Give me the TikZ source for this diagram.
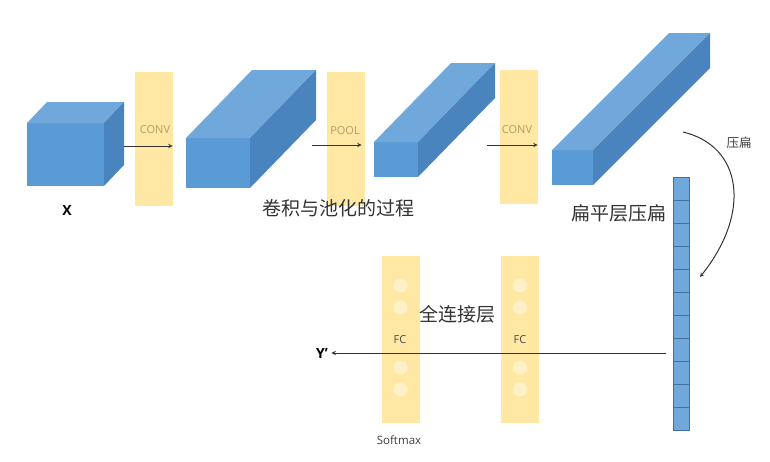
\documentclass[tikz,border=0pt]{standalone}
\usepackage{fontspec}
\setmainfont{Open Sans}
\newfontfamily\cjk{Noto Sans CJK SC}
\usepackage{tikz}
\usetikzlibrary{positioning}
\definecolor{boxfront}{HTML}{5B9BD5}
\definecolor{boxtop}{HTML}{70A8DC}
\definecolor{boxside}{HTML}{4A84BE}
\definecolor{bandfill}{HTML}{FFE8A3}
\definecolor{bandtext}{HTML}{B39C6A}
\definecolor{cellline}{HTML}{41719C}
% cuboid: front face x1 y1 x2 y2, depth dx dy
\newcommand{\cuboid}[6]{%
  \fill[boxfront] (#1,#2) rectangle (#3,#4);
  \fill[boxtop] (#1,#2) -- ++(#5,#6) -- ++({#3-#1},0) -- (#3,#2) -- cycle;
  \fill[boxside] (#3,#2) -- ++(#5,#6) -- ++(0,{#4-#2}) -- (#3,#4) -- cycle;
}
\tikzset{
  band/.style={fill=bandfill, minimum width=38pt, inner sep=0pt},
  bandlabel/.style={text=bandtext, font=\fontsize{11}{13}\selectfont},
  cell/.style={fill=boxtop, draw=cellline, line width=0.8pt, minimum width=16pt, minimum height=23pt, inner sep=0pt},
  dot/.style={circle, fill=white, fill opacity=0.4, minimum size=14pt, inner sep=0pt},
  cntext/.style={font=\cjk\fontsize{19}{21}\selectfont, text=black!80},
  flow/.style={->, line width=1pt, black!80},
}
\begin{document}
\begin{tikzpicture}[x=1pt, y=-1pt, >=stealth]
    \useasboundingbox (0,0) rectangle (770,461);

    % Draw bands
    \node[band, minimum height=134pt] (conv1) at (153.5,139) {};
    \node[band, minimum height=134pt] (pool) at (345.5,139) {};
    \node[band, minimum height=134pt] (conv2) at (518.5,137) {};
    \node[band, minimum height=167pt] (fc1) at (400.5,339.5) {};
    \node[band, minimum height=167pt] (fc2) at (520,339.5) {};

    % Draw cuboids
    \cuboid{27}{123}{104}{186}{20}{-21}
    \cuboid{186}{138}{250}{188}{66}{-68}
    \cuboid{374}{142}{418}{177}{77}{-79}
    \cuboid{552}{150}{593}{185}{117}{-117}

    % Draw band labels
    \node[bandlabel] (conv1l) at (155,130) {CONV};
    \node[bandlabel] (pooll) at (345,131) {POOL};
    \node[bandlabel] (conv2l) at (517,130) {CONV};

    % Draw convolution arrows
    \coordinate (x) at (124,146);
    \coordinate (s2) at (312,145);
    \coordinate (s3) at (487,145);
    \draw[flow] (x) -- (conv1.east |- x);
    \draw[flow] (s2) -- ([xshift=-3pt]pool.east |- s2);
    \draw[flow] (s3) -- (conv2.east |- s3);

    % Draw texts
    \node[font=\bfseries\fontsize{14}{16}\selectfont] (xlab) at (67,210) {X};
    \node[cntext] (convtxt) at (338,208) {卷积与池化的过程};
    \node[cntext] (flattxt) at (619,213) {扁平层压扁};
    \node[cntext] (fctxt) at (457,314) {全连接层};
    \node[font=\cjk\fontsize{12.5}{14}\selectfont, text=black!75] (squash) at (739,143) {压扁};

    % Draw flatten column
    \foreach \i in {0,...,10}
      \node[cell] (cell\i) at (681,188.5+23*\i) {};

    % Draw squash arrow
    \coordinate (sq) at (683,132);
    \coordinate (sqend) at (700,277);
    \draw[flow] (sq) .. controls (742,146) and (752,212) .. (sqend);

    % Draw fc neurons
    \foreach \b in {fc1, fc2}
      \foreach \y in {-50,-28,32,54}
        \node[dot] at ([yshift=\y pt]\b.center) {};
    \node[font=\fontsize{11}{13}\selectfont, text=black!70] (fc1l) at (400,340) {FC};
    \node[font=\fontsize{11}{13}\selectfont, text=black!70] (fc2l) at (520,340) {FC};
    \node[font=\fontsize{11.5}{13}\selectfont, text=black!75] (softmax) at (399,440) {Softmax};

    % Draw output arrow
    \node[font=\bfseries\fontsize{14}{16}\selectfont] (yout) at (322,353) {Y'};
    \coordinate (flat) at (666,353);
    \draw[flow] (flat) -- (yout.east |- flat);
\end{tikzpicture}
\end{document}
